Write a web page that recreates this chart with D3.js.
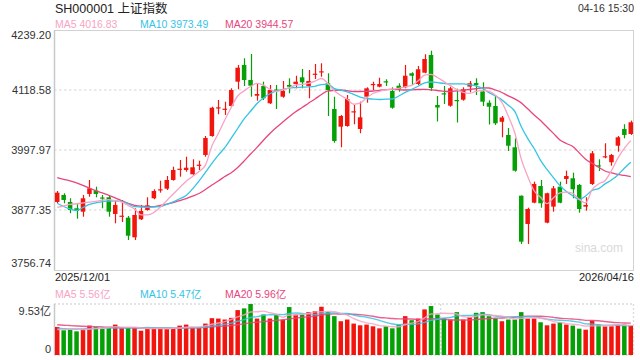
<!DOCTYPE html>
<html>
<head>
<meta charset="utf-8">
<script src="https://cdn.jsdelivr.net/npm/d3@7/dist/d3.min.js"></script>
<style>
	body{margin:0;background:#fff;}
	svg{display:block;font-family:Arial,'Liberation Sans','Noto Sans CJK SC',sans-serif;}
</style>
</head>
<body>
<svg></svg>
<script>
/* daily k-line of the SSE composite, 2025/12/01 - 2026/04/16, price + volume panels */

var title = 'SH000001 上证指数';
var stamp = '04-16 15:30';
var dateLabels = ['2025/12/01','2026/04/16'];
var priceTicks = [4239.20, 4118.58, 3997.97, 3877.35, 3756.74];
var volTicks = [9.53, 0];

var opens = [3893.5,3907.6,3893.5,3880.8,3874.0,3909.6,3916.2,3902.5,3902.9,3869.4,
	3864.7,3861.9,3822.5,3858.7,3877.4,3900.9,3918.2,3920.2,3937.7,3959.2,
	3957.8,3949.2,3967.2,3988.0,4026.1,4082.4,4079.8,4086.4,4135.3,4168.9,
	4138.7,4107.1,4126.6,4091.9,4119.6,4105.1,4128.7,4130.7,4144.1,4126.6,
	4150.2,4154.8,4132.1,4080.4,4044.8,4046.2,4074.4,4040.2,4105.1,4129.3,
	4125.3,4136.1,4116.6,4127.2,4124.0,4152.2,4130.7,4153.4,4189.0,4088.5,
	4112.0,4087.0,4098.5,4099.1,4125.3,4132.7,4115.6,4093.1,4086.4,4054.7,
	4028.2,4003.4,3906.1,3849.3,3892.1,3925.6,3851.9,3884.1,3924.2,3939.7,
	3941.1,3927.7,3884.1,3929.7,3967.2,3983.9,3973.3,4006.6,4040.2,4030.2];

var closes = [3912.2,3897.5,3877.4,3875.4,3900.9,3921.0,3909.6,3900.5,3874.0,3887.5,
	3866.0,3825.7,3867.4,3875.4,3886.8,3915.6,3919.0,3937.7,3957.8,3960.4,
	3962.4,3963.2,3968.5,4022.1,4083.0,4083.8,4081.0,4118.6,4163.4,4138.7,
	4127.2,4110.6,4101.9,4118.6,4116.6,4116.6,4125.3,4135.3,4134.1,4136.7,
	4151.4,4156.2,4118.6,4016.1,4066.3,4100.5,4075.8,4063.7,4122.0,4130.7,
	4130.7,4134.7,4083.0,4120.0,4147.3,4147.3,4160.2,4180.9,4122.6,4083.4,
	4109.6,4122.0,4096.5,4120.0,4132.1,4128.7,4095.1,4085.0,4051.7,4063.3,
	4006.6,3956.4,3813.7,3879.4,3929.7,3890.9,3911.0,3921.0,3892.1,3945.7,
	3919.0,3879.4,3887.5,3991.4,3965.8,3985.4,3988.0,4023.5,4028.2,4053.7];

var highs = [3915.6,3911.0,3900.9,3889.5,3907.6,3937.7,3924.2,3907.6,3905.5,3897.5,
	3897.5,3865.3,3880.8,3887.5,3902.9,3919.0,3936.3,3945.7,3964.4,3977.9,
	3984.5,3979.3,3976.5,4026.1,4085.0,4098.5,4095.1,4122.0,4168.9,4182.3,
	4191.0,4132.1,4135.3,4128.7,4128.7,4136.7,4142.1,4147.3,4160.8,4158.8,
	4170.9,4172.3,4152.2,4105.1,4068.4,4108.5,4088.5,4095.1,4124.0,4135.3,
	4143.3,4140.1,4124.0,4132.1,4169.0,4154.2,4166.8,4190.4,4197.6,4106.5,
	4126.6,4125.2,4121.2,4124.0,4136.7,4142.1,4134.1,4097.9,4108.5,4066.3,
	4042.2,4021.5,3906.5,3882.0,3934.3,3937.7,3912.2,3925.6,3934.3,3956.4,
	3952.4,3929.7,3902.9,3996.0,3979.3,4011.5,3990.0,4026.1,4049.7,4057.1];

var lows = [3890.9,3890.9,3870.8,3859.9,3863.9,3904.1,3902.9,3880.8,3863.9,3850.6,
	3853.3,3817.1,3817.1,3857.3,3876.0,3898.9,3912.2,3917.6,3936.3,3944.3,
	3954.4,3947.8,3957.8,3984.5,4024.7,4069.8,4068.4,4083.8,4120.0,4126.6,
	4105.1,4097.1,4098.5,4090.5,4080.4,4103.1,4112.0,4122.0,4122.0,4101.9,
	4140.7,4145.3,4066.3,4012.7,4003.4,4044.8,4049.7,4031.6,4093.1,4118.6,
	4124.0,4126.6,4081.0,4115.2,4122.0,4128.7,4128.7,4152.2,4116.6,4055.3,
	4090.5,4085.0,4053.3,4097.1,4114.0,4108.5,4086.4,4049.3,4048.3,4023.5,
	3996.0,3954.4,3809.1,3809.1,3890.9,3882.0,3850.6,3874.0,3890.9,3929.7,
	3900.9,3872.0,3876.0,3927.7,3955.8,3981.3,3966.5,3994.6,4021.5,4028.2];

// volume in 亿
var vols = [5.24,4.61,4.73,4.42,4.86,5.49,5.24,4.86,5.24,5.68,
	5.05,5.05,5.05,4.54,5.05,5.05,5.05,4.86,4.86,5.49,
	5.68,5.24,5.05,5.87,6.88,6.81,6.63,6.94,8.39,8.71,
	9.53,6.81,7.57,6.81,7.45,6.63,8.96,7.57,7.57,8.01,
	8.20,9.02,8.01,7.26,6.31,6.63,5.87,5.55,5.68,5.36,
	4.98,5.36,4.98,5.68,7.26,6.50,6.81,8.52,9.15,7.57,
	6.94,6.63,8.01,6.63,7.07,7.89,8.01,7.26,6.81,6.31,
	6.63,6.63,8.01,6.81,6.81,6.12,5.55,5.87,6.12,5.68,
	5.49,4.92,4.73,6.44,5.68,5.36,5.36,5.68,5.68,5.49];

var ma5 = [3882.4,3885.4,3888.5,3889.9,3891.5,3893.1,3894.7,3897.1,3898.3,3896.1,
	3893.1,3886.6,3879.6,3867.4,3867.4,3872.4,3883.4,3896.5,3909.6,3922.4,
	3935.3,3944.9,3954.6,3967.5,4006.0,4031.2,4058.3,4083.4,4106.5,4116.8,
	4125.6,4132.1,4128.5,4120.0,4115.6,4118.6,4122.8,4128.3,4130.1,4131.7,
	4136.3,4141.7,4131.7,4117.2,4107.5,4099.9,4089.9,4092.1,4102.9,4111.6,
	4116.0,4119.0,4120.2,4121.8,4125.0,4127.8,4137.1,4148.3,4150.0,4143.7,
	4135.5,4127.4,4119.2,4113.8,4112.0,4115.8,4117.8,4115.6,4108.0,4093.7,
	4065.7,4032.6,3980.0,3945.0,3916.0,3902.9,3890.1,3901.9,3911.6,3913.4,
	3910.8,3898.7,3891.9,3918.2,3929.7,3936.3,3956.6,3981.5,4001.4,4016.83];

var ma10 = [3890.9,3884.4,3879.4,3876.4,3882.4,3888.5,3891.7,3894.3,3895.3,3895.9,
	3894.5,3889.9,3884.0,3883.4,3882.8,3883.4,3884.0,3888.7,3893.5,3899.9,
	3906.3,3919.8,3935.3,3952.8,3971.1,3987.7,4002.6,4021.7,4041.2,4060.5,
	4075.8,4091.3,4102.7,4111.0,4116.8,4120.0,4122.4,4123.4,4124.2,4124.8,
	4126.0,4129.5,4130.3,4121.4,4118.2,4114.8,4109.8,4104.5,4101.5,4100.3,
	4099.5,4100.1,4100.5,4106.5,4113.8,4119.8,4126.2,4133.1,4134.7,4133.5,
	4131.7,4130.7,4130.7,4130.7,4129.3,4126.9,4121.8,4113.4,4106.5,4098.7,
	4087.9,4075.6,4045.3,4021.2,4001.0,3977.2,3958.8,3942.4,3926.4,3914.7,
	3905.9,3898.2,3905.6,3916.8,3920.4,3929.8,3937.5,3947.8,3961.3,3973.49];

var ma20 = [3942.3,3939.1,3936.1,3932.1,3926.8,3921.4,3916.2,3911.6,3906.8,3901.9,
	3895.9,3890.5,3886.8,3885.0,3884.6,3884.0,3886.6,3889.3,3892.3,3896.3,
	3900.1,3905.3,3910.6,3918.6,3927.7,3935.7,3944.7,3952.2,3963.0,3975.9,
	3989.8,4003.2,4017.7,4031.2,4043.2,4054.1,4064.9,4075.0,4083.4,4092.1,
	4100.5,4109.4,4116.8,4117.8,4118.6,4117.2,4115.6,4115.6,4116.0,4116.6,
	4118.0,4119.2,4119.8,4119.2,4118.6,4119.0,4119.6,4119.8,4118.8,4117.6,
	4116.0,4115.6,4117.0,4118.2,4119.6,4121.2,4123.0,4122.6,4118.6,4113.6,
	4106.7,4100.7,4092.7,4080.8,4068.5,4057.1,4044.2,4031.4,4018.3,4011.1,
	4005.0,3992.2,3979.3,3971.0,3963.4,3955.8,3952.0,3948.8,3946.9,3944.57];

var vma5 = [4.75,4.78,4.80,4.82,4.77,4.82,4.95,4.97,5.14,5.30,
	5.21,5.18,5.21,5.07,4.95,4.95,4.95,4.91,4.97,5.06,
	5.19,5.23,5.26,5.47,5.74,5.97,6.25,6.63,7.13,7.50,
	8.04,8.08,8.20,7.89,7.63,7.05,7.48,7.48,7.64,7.75,
	8.06,8.07,8.16,8.10,7.76,7.45,6.82,6.32,6.01,5.82,
	5.49,5.39,5.27,5.27,5.65,5.96,6.25,6.95,7.65,7.71,
	7.80,7.76,7.66,7.16,7.06,7.25,7.52,7.37,7.41,7.26,
	7.00,6.73,6.88,6.88,6.98,6.88,6.66,6.23,6.09,5.87,
	5.74,5.62,5.39,5.45,5.45,5.43,5.51,5.70,5.55,5.56];

var vma10 = [5.02,4.92,4.86,4.87,4.88,4.92,4.96,5.00,5.03,5.04,
	5.02,5.06,5.09,5.11,5.13,5.08,5.06,5.06,5.02,5.01,
	5.07,5.09,5.09,5.22,5.40,5.58,5.74,5.95,6.30,6.62,
	7.01,7.16,7.41,7.51,7.57,7.55,7.78,7.84,7.76,7.69,
	7.56,7.78,7.82,7.87,7.75,7.75,7.45,7.24,7.05,6.79,
	6.47,6.10,5.80,5.64,5.74,5.72,5.82,6.11,6.46,6.68,
	6.88,7.00,7.31,7.40,7.38,7.52,7.64,7.52,7.28,7.16,
	7.13,7.13,7.13,7.14,7.12,6.94,6.69,6.56,6.49,6.42,
	6.31,6.14,5.81,5.77,5.66,5.58,5.57,5.55,5.50,5.47];

var vma20 = [5.64,5.57,5.50,5.43,5.36,5.32,5.28,5.24,5.19,5.16,
	5.11,5.07,5.05,5.04,5.03,5.03,5.02,5.02,5.02,5.02,
	5.04,5.07,5.09,5.16,5.26,5.33,5.40,5.50,5.66,5.81,
	6.04,6.12,6.25,6.36,6.48,6.56,6.76,6.89,7.03,7.16,
	7.28,7.47,7.62,7.69,7.66,7.65,7.61,7.54,7.41,7.24,
	7.01,6.94,6.81,6.75,6.74,6.74,6.63,6.68,6.76,6.74,
	6.67,6.55,6.55,6.52,6.56,6.62,6.73,6.81,6.87,6.92,
	7.00,7.06,7.22,7.27,7.25,7.23,7.17,7.04,6.88,6.79,
	6.72,6.63,6.47,6.46,6.39,6.26,6.13,6.05,5.99,5.96];

var createChart = function(){

	var svgwidth = 640;
	var svgheight = 360;

	var plot = {left:54, right:634, top:30, bottom:270};
	var volbox = {top:304, bottom:355};

	var up = '#f2150e';
	var down = '#05a005';
	var c5 = '#f8a3c4', c10 = '#35c4e4', c20 = '#e8457d';

	var svg = d3.select('svg').attr('width',svgwidth).attr('height',svgheight);

	var idx = d3.range(closes.length);

	var x = d3.scaleBand().domain(idx).range([plot.left, plot.right]).paddingInner(0.3).paddingOuter(0.15);
	var y = d3.scaleLinear().domain([priceTicks[4], priceTicks[0]]).range([plot.bottom, plot.top]);
	var yv = d3.scaleLinear().domain([0, volTicks[0]]).range([volbox.bottom, volbox.top]);

	var mid = function(i){ return x(i) + x.bandwidth()/2; };
	var isUp = function(i){ return closes[i] >= opens[i]; };

	// header
	svg.append('text').attr('x',55).attr('y',13).attr('font-size',12.5).attr('fill','#222').text(title);
	svg.append('text').attr('x',634).attr('y',12).attr('text-anchor','end').attr('font-size',10.5).attr('fill','#333').text(stamp);

	var legend = [
		{t:'MA5 ' + ma5[ma5.length-1].toFixed(2), c:c5, x:55},
		{t:'MA10 ' + ma10[ma10.length-1].toFixed(2), c:c10, x:140},
		{t:'MA20 ' + ma20[ma20.length-1].toFixed(2), c:c20, x:225}
	];
	svg.selectAll('.leg').data(legend).enter().append('text')
		.attr('x',function(d){ return d.x; })
		.attr('y',28)
		.attr('font-size',10.5)
		.attr('fill',function(d){ return d.c; })
		.text(function(d){ return d.t; });

	// price panel grid + frame
	svg.selectAll('.grid').data(priceTicks.slice(1,4)).enter().append('line')
		.attr('x1',plot.left).attr('x2',plot.right)
		.attr('y1',function(d){ return Math.round(y(d)); })
		.attr('y2',function(d){ return Math.round(y(d)); })
		.attr('stroke','#e4e4e4').attr('stroke-width',1.6).attr('stroke-dasharray','2.5,2.5');

	svg.append('rect')
		.attr('x',plot.left+0.5).attr('y',plot.top+0.5)
		.attr('width',plot.right-plot.left-1).attr('height',plot.bottom-plot.top)
		.attr('fill','none').attr('stroke','#d2d2d2');
	svg.append('line').attr('x1',plot.left+0.5).attr('x2',plot.left+0.5)
		.attr('y1',plot.top).attr('y2',plot.bottom).attr('stroke','#c8c8c8').attr('stroke-width',1.5);

	svg.selectAll('.ylab').data(priceTicks).enter().append('text')
		.attr('x',51)
		.attr('y',function(d,i){
			if(i==0){ return y(d)+9; }
			if(i==priceTicks.length-1){ return y(d)-3; }
			return y(d)+4;
		})
		.attr('text-anchor','end')
		.attr('font-size',11)
		.attr('fill','#333')
		.text(function(d){ return d.toFixed(2); });

	svg.append('text').attr('x',623).attr('y',252).attr('text-anchor','end')
		.attr('font-size',12).attr('fill','#d9d9d9').text('sina.com');

	// candles
	var candles = svg.append('g').classed('candles',true);

	candles.selectAll('.wick').data(idx).enter().append('line')
		.attr('x1',function(i){ return Math.round(mid(i))+0.5; })
		.attr('x2',function(i){ return Math.round(mid(i))+0.5; })
		.attr('y1',function(i){ return y(highs[i]); })
		.attr('y2',function(i){ return y(lows[i]); })
		.attr('stroke',function(i){ return isUp(i) ? up : down; })
		.attr('stroke-width',1.2);

	candles.selectAll('.body').data(idx).enter().append('rect')
		.attr('x',function(i){ return x(i); })
		.attr('y',function(i){ return y(Math.max(opens[i],closes[i])); })
		.attr('width',x.bandwidth())
		.attr('height',function(i){
			var h = Math.abs(y(opens[i]) - y(closes[i]));
			return h < 1.2 ? 1.2 : h;
		})
		.attr('fill',function(i){ return isUp(i) ? up : down; });

	// moving averages
	var line = d3.line().x(function(d,i){ return mid(i); }).y(function(d){ return y(d); }).curve(d3.curveMonotoneX);
	[[ma20,c20],[ma10,c10],[ma5,c5]].forEach(function(s){
		svg.append('path').attr('d',line(s[0])).attr('fill','none')
			.attr('stroke',s[1]).attr('stroke-width',1.3);
	});

	svg.append('text').attr('x',55).attr('y',281).attr('font-size',11).attr('fill','#222').text(dateLabels[0]);
	svg.append('text').attr('x',634).attr('y',281).attr('text-anchor','end').attr('font-size',11).attr('fill','#222').text(dateLabels[1]);

	// volume panel
	var vlegend = [
		{t:'MA5 ' + vma5[vma5.length-1].toFixed(2) + '亿', c:c5, x:55},
		{t:'MA10 ' + vma10[vma10.length-1].toFixed(2) + '亿', c:c10, x:140},
		{t:'MA20 ' + vma20[vma20.length-1].toFixed(2) + '亿', c:c20, x:225}
	];
	svg.selectAll('.vleg').data(vlegend).enter().append('text')
		.attr('x',function(d){ return d.x; })
		.attr('y',298)
		.attr('font-size',10.5)
		.attr('fill',function(d){ return d.c; })
		.text(function(d){ return d.t; });

	var dots = function(x1,y1,x2,y2){
		svg.append('line').attr('x1',x1).attr('y1',y1).attr('x2',x2).attr('y2',y2)
			.attr('stroke','#dcdcdc').attr('stroke-width',1.4).attr('stroke-dasharray','2,2');
	};
	dots(plot.left, yv(volTicks[0]), plot.right, yv(volTicks[0]));
	dots(plot.left, volbox.bottom, plot.right, volbox.bottom);
	dots(plot.right-0.5, volbox.top, plot.right-0.5, volbox.bottom);
	dots(mid(59)+x.step()/2, volbox.top, mid(59)+x.step()/2, volbox.bottom);
	svg.append('line').attr('x1',plot.left+0.5).attr('x2',plot.left+0.5)
		.attr('y1',volbox.top).attr('y2',volbox.bottom).attr('stroke','#c8c8c8').attr('stroke-width',1.5);

	svg.append('text').attr('x',51).attr('y',yv(volTicks[0])+11).attr('text-anchor','end')
		.attr('font-size',11).attr('fill','#333').text(volTicks[0].toFixed(2) + '亿');
	svg.append('text').attr('x',51).attr('y',yv(volTicks[1])-2).attr('text-anchor','end')
		.attr('font-size',11).attr('fill','#333').text(volTicks[1]);

	svg.selectAll('.vbar').data(idx).enter().append('rect')
		.attr('x',function(i){ return x(i); })
		.attr('y',function(i){ return yv(vols[i]); })
		.attr('width',x.bandwidth())
		.attr('height',function(i){ return yv(0) - yv(vols[i]); })
		.attr('fill',function(i){ return isUp(i) ? up : down; });

	var vline = d3.line().x(function(d,i){ return mid(i); }).y(function(d){ return yv(d); }).curve(d3.curveMonotoneX);
	[[vma20,c20],[vma10,c10],[vma5,c5]].forEach(function(s){
		svg.append('path').attr('d',vline(s[0])).attr('fill','none')
			.attr('stroke',s[1]).attr('stroke-width',1.4).attr('opacity',0.85);
	});

}

createChart();
</script>
</body>
</html>
